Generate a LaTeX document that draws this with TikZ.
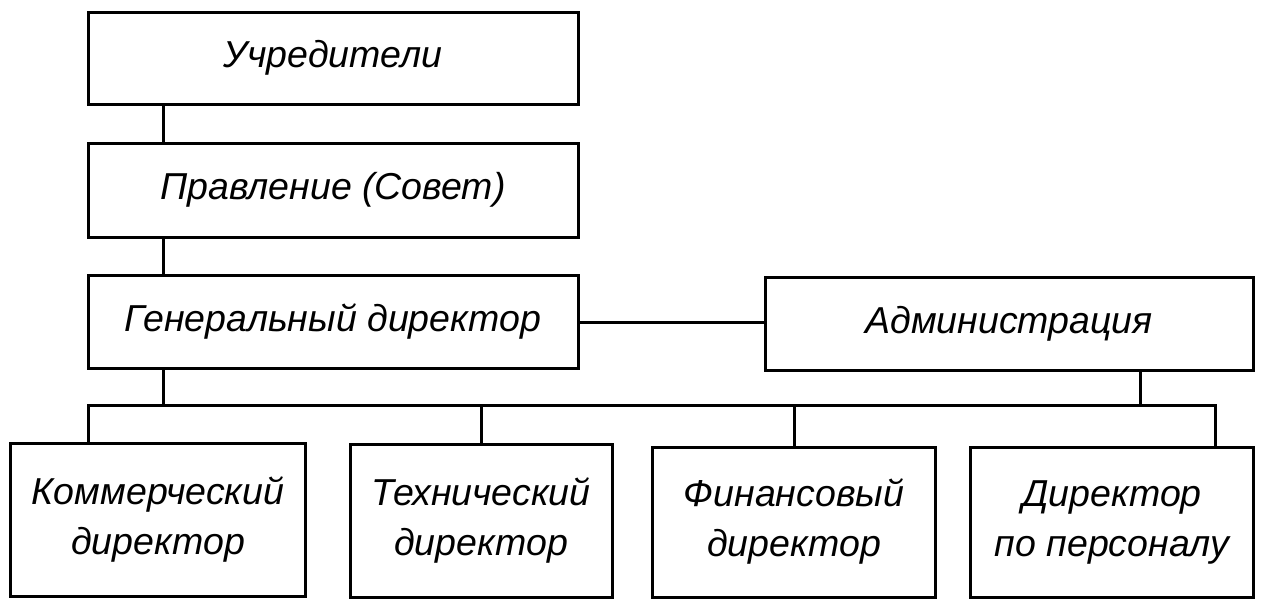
\documentclass[tikz,border=0pt]{standalone}
\usepackage{fontspec}
\setmainfont{Liberation Sans}
\begin{document}
\begin{tikzpicture}[x=1pt,y=-1pt,
  box/.style={draw, line width=3pt, fill=white, inner sep=0pt, align=center,
    font=\fontsize{37.5}{50}\selectfont\itshape},
  conn/.style={line width=3pt, line join=miter}]
\useasboundingbox[fill=white] (0,0) rectangle (1264,606);
\node[box, minimum width=490, minimum height=92] (u) at (333,58) {Учредители};
\node[box, minimum width=490, minimum height=94] (p) at (333,190) {Правление (Совет)};
\node[box, minimum width=490, minimum height=93] (g) at (333,322) {Генеральный директор};
\node[box, minimum width=488, minimum height=93] (adm) at (1009,324) {Администрация};
\node[box, minimum width=295, minimum height=153] (a) at (158,520) {Коммерческий\\директор};
\node[box, minimum width=262, minimum height=153] (b) at (481,521) {Технический\\директор};
\node[box, minimum width=283, minimum height=150] (c) at (794,522) {Финансовый\\директор};
\node[box, minimum width=283, minimum height=150] (d) at (1112,522) {Директор\\по персоналу};
\coordinate (vx) at (163,0);
\coordinate (ax) at (1140,0);
\coordinate (busL) at (88,405);
\coordinate (busR) at (1215,405);
\draw[conn] (vx |- u.south) -- (vx |- p.north);
\draw[conn] (vx |- p.south) -- (vx |- g.north);
\draw[conn] (vx |- g.south) -- (vx |- busL);
\draw[conn] (g.east) -- (g.east -| adm.west);
\draw[conn] (ax |- adm.south) -- (ax |- busL);
\draw[conn] (busL |- a.north) -- (busL) -- (busR) -- (busR |- d.north);
\draw[conn] (b.north |- busL) -- (b.north);
\draw[conn] (c.north |- busL) -- (c.north);
\end{tikzpicture}
\end{document}
